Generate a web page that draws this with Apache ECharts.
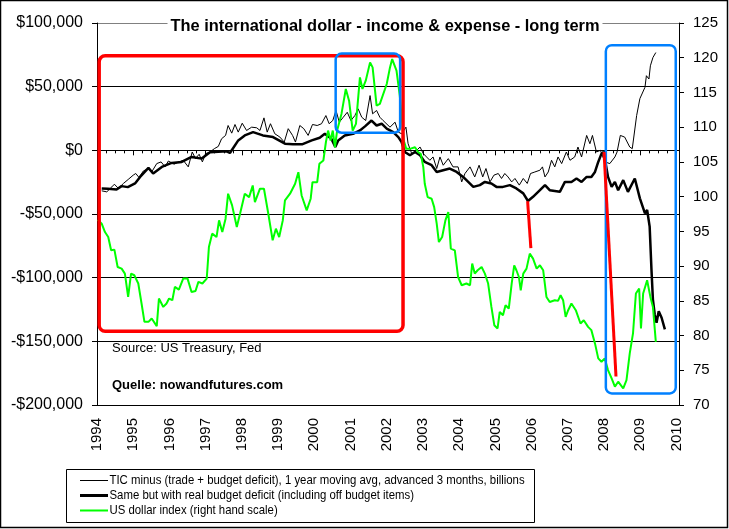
<!DOCTYPE html>
<html><head><meta charset="utf-8">
<script src="https://cdn.jsdelivr.net/npm/echarts@6/dist/echarts.min.js"></script>
<style>html,body{margin:0;padding:0;background:#fff}#c{width:729px;height:529px}</style>
</head><body><div id="c"></div>
<script>
// ---- data ----
const titleText = 'The international dollar - income & expense - long term';
const legendNames = [
  'TIC minus (trade + budget deficit), 1 year moving avg, advanced 3 months, billions',
  'Same but with real budget deficit (including off budget items)',
  'US dollar index (right hand scale)'
];
const leftTicks = {min: -200000, max: 100000, step: 50000};
const rightTicks = {min: 70, max: 125, step: 5};
const yearRange = {min: 1994, max: 2010.07};

const tic = [[1994.13,-31800],[1994.27,-32600],[1994.41,-28700],[1994.48,-26600],[1994.59,-29900],[1994.73,-26000],[1994.86,-22900],[1995.00,-19500],[1995.07,-18200],[1995.16,-21300],[1995.28,-16200],[1995.42,-14300],[1995.51,-17000],[1995.65,-10400],[1995.77,-9100],[1995.88,-13000],[1995.97,-8400],[1996.13,-10900],[1996.26,-9100],[1996.38,-7800],[1996.52,-13000],[1996.63,-1300],[1996.72,-6500],[1996.82,-3100],[1996.91,-9100],[1997.00,-2600],[1997.12,-1300],[1997.24,1300],[1997.35,3100],[1997.44,9100],[1997.55,11700],[1997.62,19500],[1997.72,13500],[1997.81,20300],[1997.90,14300],[1998.01,21300],[1998.13,15600],[1998.27,18200],[1998.41,17700],[1998.50,15600],[1998.61,25500],[1998.70,14300],[1998.79,20900],[1998.91,13000],[1999.05,10400],[1999.17,6500],[1999.28,17000],[1999.40,11700],[1999.48,6500],[1999.60,19500],[1999.71,17000],[1999.83,11700],[1999.95,20300],[2000.08,19500],[2000.20,20900],[2000.32,27300],[2000.41,20900],[2000.51,23400],[2000.60,31300],[2000.69,22100],[2000.80,26000],[2000.91,29900],[2001.01,23400],[2001.12,27300],[2001.21,32600],[2001.31,26000],[2001.42,23400],[2001.54,43000],[2001.61,28700],[2001.72,31300],[2001.81,26000],[2001.90,23400],[2002.09,18200],[2002.23,22100],[2002.32,14300],[2002.41,13000],[2002.53,18200],[2002.59,5200],[2002.69,-2600],[2002.78,-1300],[2002.92,2600],[2003.01,-2600],[2003.10,-5200],[2003.19,-7800],[2003.28,-5200],[2003.38,-14300],[2003.47,-5200],[2003.56,-11700],[2003.70,-6500],[2003.83,-13000],[2003.97,-13000],[2004.07,-24800],[2004.16,-18200],[2004.30,-13000],[2004.43,-20900],[2004.55,-11700],[2004.65,-20900],[2004.74,-14300],[2004.85,-24800],[2004.96,-19500],[2005.08,-18200],[2005.17,-22100],[2005.26,-18200],[2005.35,-20900],[2005.45,-24800],[2005.54,-22100],[2005.66,-27300],[2005.77,-22100],[2005.88,-26000],[2005.97,-18200],[2006.09,-17000],[2006.23,-15600],[2006.30,-13000],[2006.37,-20900],[2006.46,-17000],[2006.55,-7800],[2006.64,-13000],[2006.73,-5200],[2006.83,-10400],[2006.96,-1300],[2007.06,-7800],[2007.19,-5200],[2007.28,2600],[2007.38,-5200],[2007.52,11700],[2007.61,5200],[2007.68,11700],[2007.79,-1300],[2007.90,0],[2008.02,-9100],[2008.16,-10400],[2008.30,-5200],[2008.36,-1300],[2008.45,11700],[2008.57,10400],[2008.71,2600],[2008.78,1300],[2008.90,27300],[2008.99,40600],[2009.13,49500],[2009.17,58600],[2009.24,56000],[2009.28,66400],[2009.35,72900],[2009.43,76800]];

const realDeficit = [[1994.13,-29900],[1994.30,-30200],[1994.54,-30700],[1994.68,-28100],[1994.85,-28900],[1995.05,-26000],[1995.19,-20900],[1995.42,-13800],[1995.55,-18200],[1995.79,-13000],[1996.06,-9900],[1996.34,-9100],[1996.61,-5200],[1996.89,-6500],[1997.12,-1600],[1997.58,-800],[1997.67,-2100],[1997.90,7800],[1998.08,11700],[1998.31,14300],[1998.58,11700],[1998.86,10400],[1999.19,5200],[1999.41,4700],[1999.66,4700],[1999.93,7800],[2000.15,9900],[2000.29,13000],[2000.47,9100],[2000.58,2600],[2000.66,7800],[2000.84,11700],[2001.07,13000],[2001.26,15600],[2001.40,18800],[2001.58,23400],[2001.72,19500],[2001.86,20900],[2002.00,17000],[2002.18,14300],[2002.32,10400],[2002.41,6500],[2002.50,-1300],[2002.64,-3900],[2002.78,-1300],[2002.92,-3900],[2003.05,-9100],[2003.24,-11700],[2003.38,-17000],[2003.56,-15600],[2003.74,-14300],[2003.93,-17000],[2004.11,-20900],[2004.39,-28700],[2004.57,-27300],[2004.71,-24800],[2004.89,-26000],[2005.03,-28700],[2005.21,-28700],[2005.40,-27300],[2005.58,-29900],[2005.77,-33800],[2005.90,-39800],[2006.04,-36500],[2006.23,-31300],[2006.37,-27300],[2006.50,-31300],[2006.78,-32600],[2006.92,-24800],[2007.10,-24800],[2007.24,-22100],[2007.38,-24800],[2007.52,-20900],[2007.65,-20900],[2007.75,-17000],[2007.84,-9100],[2007.93,-2600],[2007.99,-1300],[2008.11,-20900],[2008.21,-28700],[2008.30,-24800],[2008.39,-31300],[2008.53,-23400],[2008.66,-32600],[2008.85,-22100],[2008.99,-37700],[2009.13,-49500],[2009.19,-46900],[2009.26,-59900],[2009.31,-93800],[2009.35,-117200],[2009.40,-128900],[2009.45,-135400],[2009.51,-126300],[2009.59,-131500],[2009.68,-140600]];

const usdIndex = [[1994.02,96.68],[1994.13,96.11],[1994.22,94.90],[1994.31,94.18],[1994.39,92.27],[1994.48,92.37],[1994.57,89.87],[1994.68,89.64],[1994.77,88.92],[1994.86,85.56],[1994.94,88.92],[1995.03,88.68],[1995.14,87.49],[1995.23,84.61],[1995.31,81.97],[1995.42,81.97],[1995.51,82.46],[1995.65,81.35],[1995.71,85.33],[1995.83,84.12],[1995.92,84.61],[1995.99,85.33],[1996.08,85.09],[1996.15,87.00],[1996.26,86.62],[1996.38,88.20],[1996.50,88.20],[1996.61,86.28],[1996.72,86.42],[1996.80,87.72],[1996.91,87.49],[1997.03,88.20],[1997.09,92.74],[1997.18,94.67],[1997.30,94.18],[1997.37,96.58],[1997.46,94.90],[1997.55,96.83],[1997.62,100.42],[1997.73,98.74],[1997.86,95.62],[1997.95,97.54],[1998.08,100.42],[1998.20,99.93],[1998.30,101.61],[1998.36,99.21],[1998.50,101.14],[1998.61,101.14],[1998.73,97.54],[1998.85,93.71],[1998.94,95.39],[1999.03,94.18],[1999.13,96.58],[1999.19,99.45],[1999.33,100.42],[1999.47,101.85],[1999.56,103.52],[1999.65,100.17],[1999.79,98.02],[1999.90,99.70],[1999.95,102.08],[2000.08,102.08],[2000.14,104.73],[2000.25,105.20],[2000.32,107.83],[2000.38,109.51],[2000.45,108.07],[2000.51,109.51],[2000.57,107.11],[2000.63,109.51],[2000.75,111.91],[2000.87,115.50],[2000.96,113.82],[2001.06,109.51],[2001.15,110.47],[2001.26,117.17],[2001.33,115.50],[2001.42,116.70],[2001.54,119.33],[2001.61,118.61],[2001.72,113.10],[2001.81,113.35],[2002.00,116.22],[2002.09,118.61],[2002.15,119.81],[2002.27,118.13],[2002.36,114.54],[2002.47,108.07],[2002.54,106.88],[2002.64,106.88],[2002.78,107.11],[2002.87,106.39],[2002.94,106.16],[2003.01,104.24],[2003.05,101.85],[2003.13,99.93],[2003.24,99.70],[2003.31,98.49],[2003.38,96.11],[2003.44,93.46],[2003.53,94.18],[2003.62,96.58],[2003.70,97.77],[2003.77,92.51],[2003.88,92.27],[2003.97,88.43],[2004.07,87.24],[2004.20,87.49],[2004.30,87.24],[2004.36,90.36],[2004.43,88.92],[2004.51,89.40],[2004.62,89.87],[2004.71,88.92],[2004.80,87.49],[2004.89,84.12],[2004.97,81.49],[2005.06,81.02],[2005.12,83.41],[2005.21,82.93],[2005.28,84.37],[2005.37,83.89],[2005.45,87.49],[2005.52,90.11],[2005.58,89.40],[2005.65,88.43],[2005.70,86.52],[2005.77,88.92],[2005.86,89.64],[2005.95,91.80],[2006.04,91.08],[2006.14,89.64],[2006.23,90.11],[2006.32,89.40],[2006.41,85.56],[2006.50,84.84],[2006.64,85.09],[2006.73,84.99],[2006.80,85.80],[2006.87,85.09],[2006.94,82.69],[2007.01,83.65],[2007.10,84.61],[2007.22,83.65],[2007.35,81.74],[2007.44,82.21],[2007.56,81.25],[2007.65,80.78],[2007.75,78.87],[2007.84,76.71],[2007.93,76.22],[2008.02,76.71],[2008.11,75.03],[2008.21,73.84],[2008.30,72.63],[2008.39,73.35],[2008.53,72.40],[2008.62,73.59],[2008.71,77.43],[2008.80,80.30],[2008.88,86.05],[2008.97,86.77],[2009.02,81.02],[2009.08,86.05],[2009.19,87.96],[2009.28,85.56],[2009.35,84.12],[2009.43,79.09]];

// annotation boxes in data coords [year1, leftValue1, year2, leftValue2]
const redBox = [1994.06, 74200, 2002.45, -142000];
const blueBox1 = [2000.59, 76000, 2002.37, 13800];
const blueBox2 = [2008.05, 82600, 2009.98, -190900];
// red arrows: from [year, leftValue] to [year, rightValue]
const redLines = [[[2005.89, -40000], [2005.98, 92.6]], [[2008.00, -1300], [2008.33, 74.1]]];
const sourceText = 'Source: US Treasury, Fed';
const quelleText = 'Quelle: nowandfutures.com';

// ---- chart ----
const FONT = '"Liberation Sans", Arial, sans-serif';
const chart = echarts.init(document.getElementById('c'));
function fmtLeft(v) {
  if (v === 0) return '$0';
  return (v < 0 ? '-' : '') + '$' + Math.abs(v).toLocaleString('en-US');
}
const nLeft = Math.round((leftTicks.max - leftTicks.min) / leftTicks.step) + 1;
const gridColors = [];
for (let i = 0; i < nLeft; i++) gridColors.push(i === nLeft - 1 ? '#808080' : '#000000');

const seriesStyles = [
  {color: '#000000', width: 1, z: 3},
  {color: '#000000', width: 2.5, z: 4},
  {color: '#00ff00', width: 2, z: 5}
];

chart.setOption({
  animation: false,
  backgroundColor: '#ffffff',
  textStyle: {fontFamily: FONT},
  grid: {left: 97, right: 50, top: 23, bottom: 124},
  xAxis: {
    type: 'value', min: yearRange.min, max: yearRange.max, interval: 1,
    axisLine: {show: true, lineStyle: {color: '#000', width: 1}},
    axisTick: {show: true, length: 5, lineStyle: {color: '#000'}},
    minorTick: {show: true, splitNumber: 4, length: 3, lineStyle: {color: '#000'}},
    splitLine: {show: false},
    axisLabel: {rotate: 90, fontSize: 15, color: '#000', margin: 13, showMaxLabel: false,
      formatter: v => String(Math.round(v))}
  },
  yAxis: [{
    type: 'value', min: leftTicks.min, max: leftTicks.max, interval: leftTicks.step,
    axisLine: {show: true, lineStyle: {color: '#000'}},
    axisTick: {show: true, length: 5, lineStyle: {color: '#000'}},
    splitLine: {show: true, lineStyle: {color: gridColors, width: 1}},
    axisLabel: {fontSize: 16, color: '#000', margin: 14, formatter: fmtLeft}
  }, {
    type: 'value', position: 'right', min: rightTicks.min, max: rightTicks.max, interval: rightTicks.step,
    axisLine: {show: true, lineStyle: {color: '#000'}},
    axisTick: {show: true, length: 5, lineStyle: {color: '#000'}},
    splitLine: {show: false},
    axisLabel: {fontSize: 15, color: '#000', margin: 14}
  }],
  series: [
    {name: legendNames[0], type: 'line', data: tic, symbol: 'none', z: seriesStyles[0].z,
      lineStyle: {color: seriesStyles[0].color, width: seriesStyles[0].width}},
    {name: legendNames[1], type: 'line', data: realDeficit, symbol: 'none', z: seriesStyles[1].z,
      lineStyle: {color: seriesStyles[1].color, width: seriesStyles[1].width}},
    {name: legendNames[2], type: 'line', data: usdIndex, yAxisIndex: 1, symbol: 'none', z: seriesStyles[2].z,
      lineStyle: {color: seriesStyles[2].color, width: seriesStyles[2].width}}
  ]
});

function pL(t, v) { return chart.convertToPixel({xAxisIndex: 0, yAxisIndex: 0}, [t, v]); }
function pR(t, v) { return chart.convertToPixel({xAxisIndex: 0, yAxisIndex: 1}, [t, v]); }
function boxEl(b, color, w) {
  const a = pL(b[0], b[1]), c = pL(b[2], b[3]);
  return {type: 'rect', z: 100, silent: true,
    shape: {x: a[0], y: a[1], width: c[0] - a[0], height: c[1] - a[1], r: 6},
    style: {fill: 'none', stroke: color, lineWidth: w}};
}
const g = [];
g.push({type: 'rect', z: 0, silent: true, shape: {x: 0.5, y: 0.5, width: 727, height: 527},
  style: {fill: 'none', stroke: '#000', lineWidth: 1.5}});
// legend box + entries
g.push({type: 'rect', z: 0, silent: true, shape: {x: 66.5, y: 469.5, width: 468, height: 53},
  style: {fill: 'none', stroke: '#000', lineWidth: 1}});
const legendRowY = [480.5, 495.5, 510.5];
legendNames.forEach((name, i) => {
  const y = legendRowY[i];
  g.push({type: 'line', z: 10, silent: true, shape: {x1: 80, y1: y, x2: 108, y2: y},
    style: {stroke: seriesStyles[i].color, lineWidth: i === 1 ? 3 : seriesStyles[i].width}});
  g.push({type: 'text', z: 10, silent: true, x: 109.5, y: y, scaleX: 0.875,
    style: {text: name, font: '13px ' + FONT, fill: '#000', align: 'left', verticalAlign: 'middle'}});
});
g.push(boxEl(redBox, '#ff0000', 3.5));
g.push(boxEl(blueBox1, '#0080ff', 2.5));
g.push(boxEl(blueBox2, '#0080ff', 2.5));
redLines.forEach(l => {
  const a = pL(l[0][0], l[0][1]), b = pR(l[1][0], l[1][1]);
  g.push({type: 'line', z: 101, silent: true, shape: {x1: a[0], y1: a[1], x2: b[0], y2: b[1]},
    style: {stroke: '#ff0000', lineWidth: 3}});
});
g.push({type: 'text', z: 110, silent: true, x: 385, y: 26,
  style: {text: titleText, font: 'bold 16.4px ' + FONT, fill: '#000', align: 'center', verticalAlign: 'middle',
    backgroundColor: '#fff', padding: [2, 3]}});
g.push({type: 'text', z: 110, silent: true, x: 112, y: 348,
  style: {text: sourceText, font: '13px ' + FONT, fill: '#000', align: 'left', verticalAlign: 'middle'}});
g.push({type: 'text', z: 110, silent: true, x: 112, y: 385,
  style: {text: quelleText, font: 'bold 13px ' + FONT, fill: '#000', align: 'left', verticalAlign: 'middle'}});
chart.setOption({graphic: g});
</script></body></html>
